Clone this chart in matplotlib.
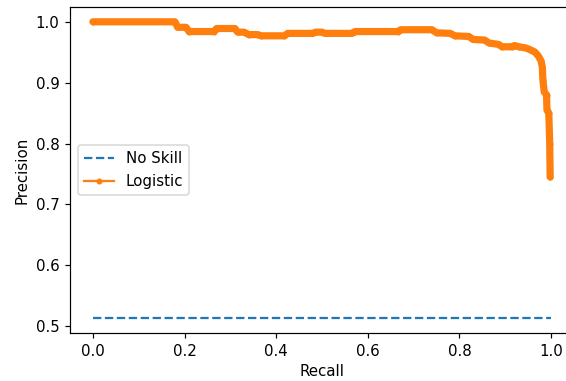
import numpy as np
import matplotlib
matplotlib.use("Agg")
import matplotlib.pyplot as plt

# No-skill baseline (share of positives)
no_skill_recall = [0.0, 1.0]
no_skill_precision = [0.513, 0.513]

# Logistic regression precision-recall curve
lr_recall = [0.0, 0.179, 0.185, 0.203, 0.21, 0.264, 0.27, 0.31, 0.316, 0.33,
             0.34, 0.36, 0.367, 0.418, 0.425, 0.48, 0.486, 0.50, 0.506, 0.565,
             0.572, 0.665, 0.672, 0.74, 0.75, 0.78, 0.79, 0.82, 0.83, 0.855,
             0.865, 0.885, 0.893, 0.915, 0.92, 0.93, 0.945, 0.955, 0.965, 0.972,
             0.978, 0.981, 0.982, 0.985, 0.99, 0.991, 0.995, 0.997, 0.998]
lr_precision = [1.0, 1.0, 0.991, 0.991, 0.984, 0.984, 0.989, 0.989, 0.983, 0.983,
                0.979, 0.979, 0.977, 0.977, 0.981, 0.981, 0.983, 0.983, 0.981, 0.981,
                0.984, 0.984, 0.987, 0.987, 0.982, 0.981, 0.977, 0.976, 0.971, 0.970,
                0.965, 0.963, 0.959, 0.959, 0.961, 0.959, 0.957, 0.954, 0.950, 0.944,
                0.936, 0.925, 0.905, 0.885, 0.880, 0.855, 0.85, 0.80, 0.745]

DPI = 108
fig = plt.figure(figsize=(566 / DPI, 381 / DPI), dpi=DPI)
# the axes run past the right edge of the picture, as in the cropped original
ax = fig.add_axes([70 / 566, 48 / 381, 504 / 566, 326 / 381])

ax.plot(no_skill_recall, no_skill_precision, linestyle="--", color="C0", label="No Skill")
# thick band: the real curve has hundreds of overlapping dots
ax.plot(lr_recall, lr_precision, color="C1", linewidth=4.8, solid_capstyle="round",
        solid_joinstyle="round")
ax.plot(lr_recall, lr_precision, marker=".", color="C1", label="Logistic")

ax.spines["right"].set_visible(False)
ax.set_xlabel("Recall")
ax.set_ylabel("Precision")
ax.legend(loc="center left")

fig.savefig("out.png", dpi=DPI)
